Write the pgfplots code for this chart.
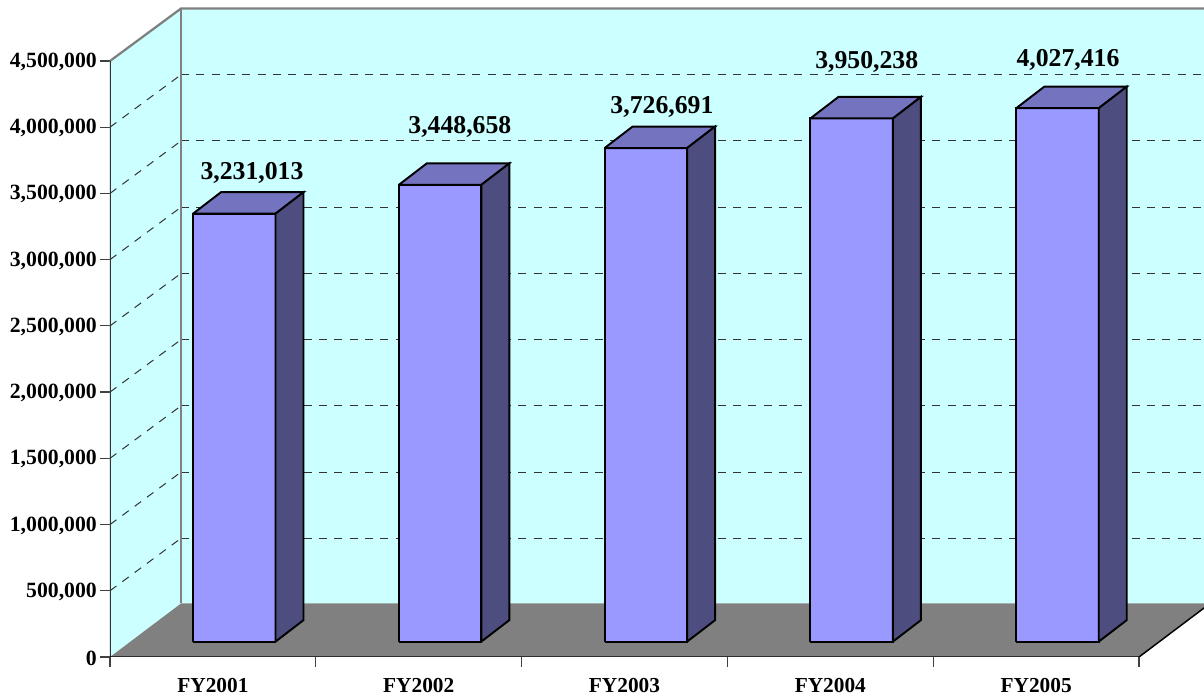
\documentclass[border=0pt]{standalone}
\usepackage{fontspec}
\setmainfont{Liberation Serif}
\usepackage{pgfplots}
\usepackage{pgfplotstable}
\pgfplotsset{compat=1.18}
\definecolor{wallc}{HTML}{CCFFFF}
\definecolor{floorc}{HTML}{808080}
\definecolor{barf}{HTML}{9999FF}
\definecolor{bart}{HTML}{7373BF}
\definecolor{bars}{HTML}{4D4D80}
% polygon shapes: x = category + u, y = a + s * value
\pgfplotstableread{
u a s
0.4033 116000 0
0.8042 116000 0
0.8042 116000 1
0.4033 116000 1
0.4033 116000 0
}\frontface
\pgfplotstableread{
u a s
0.4033 116000 1
0.8042 116000 1
0.9403 278331 1
0.5394 278331 1
0.4033 116000 1
}\topface
\pgfplotstableread{
u a s
0.8042 116000 0
0.9403 278331 0
0.9403 278331 1
0.8042 116000 1
0.8042 116000 0
}\sideface
\newcommand\threedbar[2]{%
  \addplot[draw=black,line width=1.45pt,line join=miter,fill=barf] table[x expr=#1+\thisrow{u},y expr=\thisrow{a}+\thisrow{s}*#2]{\frontface};
  \addplot[draw=black,line width=1.45pt,line join=miter,fill=bart] table[x expr=#1+\thisrow{u},y expr=\thisrow{a}+\thisrow{s}*#2]{\topface};
  \addplot[draw=black,line width=1.45pt,line join=miter,fill=bars] table[x expr=#1+\thisrow{u},y expr=\thisrow{a}+\thisrow{s}*#2]{\sideface};
}
\tikzset{griddash/.style={black!80,line width=0.75pt,dash pattern=on 6pt off 5.5pt}}
\begin{document}
\begin{tikzpicture}
\path[use as bounding box] (-82.5pt,-30.75pt) rectangle (820.5pt,492.75pt);
\begin{axis}[
  at={(0pt,0pt)},anchor=origin,
  scale only axis,width=820.5pt,height=492.75pt,
  xmin=0,xmax=5.3158,ymin=0,ymax=4960547,
  axis x line*=bottom,axis y line*=left,
  axis line style={draw=none,-},
  tick align=outside,
  major tick length=7.5pt,minor tick length=7.5pt,
  ytick={0,500000,1000000,1500000,2000000,2500000,3000000,3500000,4000000,4500000},
  scaled y ticks=false,
  yticklabel style={/pgf/number format/fixed,/pgf/number format/precision=0,/pgf/number format/1000 sep={,},/pgf/number format/assume math mode=true,font=\fontsize{16.3pt}{18pt}\selectfont\bfseries,inner sep=0pt,xshift=-2.2pt,yshift=-0.7pt},
  xtick={0.5,1.5,2.5,3.5,4.5},
  xticklabels={FY2001,FY2002,FY2003,FY2004,FY2005},
  minor xtick={0,1,2,3,4,5},
  xticklabel style={font=\fontsize{16pt}{18pt}\selectfont\bfseries,inner sep=0pt,yshift=-8.2pt,text height=11pt,text depth=0pt},
  major x tick style={draw=none},
  minor x tick style={draw=black!75,line width=0.9pt},
  y tick style={draw=black!75,line width=0.9pt},
]
% walls and floor
\addplot[draw=none,fill=wallc] coordinates {(0,0) (0.345,404000) (0.345,4896000) (0,4500000) (0,0)};
\addplot[draw=none,fill=wallc] coordinates {(0.345,404000) (5.3158,404000) (5.3158,4896000) (0.345,4896000) (0.345,404000)};
\addplot[draw=none,fill=floorc] coordinates {(0,0) (0.345,404000) (5.345,404000) (5,0) (0,0)};
% gridlines on the side wall and back wall
\pgfplotsinvokeforeach{500000,1000000,1500000,2000000,2500000,3000000,3500000,4000000}{
  \addplot[griddash] table[x=x,y expr=\thisrow{a}+#1,row sep=\\]{x a\\ 0 0\\ 0.345 396000\\};
  \addplot[griddash] table[x=x,y expr=\thisrow{a}+#1,row sep=\\]{x a\\ 0.345 396000\\ 5.3158 396000\\};
}
% wall edges
\addplot[draw=floorc,line width=1.7pt] coordinates {(0,4500000) (0.345,4896000) (5.3158,4896000)};
\addplot[draw=floorc,line width=1.7pt] coordinates {(0.345,404000) (0.345,4896000)};
% axis lines
\addplot[draw=black!80,line width=1.1pt] coordinates {(0,0) (0,4500000)};
\addplot[draw=black,line width=1.1pt] coordinates {(0,0) (5,0) (5.345,404000)};
% bars
\threedbar{0}{3231013}
\threedbar{1}{3448658}
\threedbar{2}{3726691}
\threedbar{3}{3950238}
\threedbar{4}{4027416}
% value labels
\tikzset{vlabel/.style={font=\fontsize{19.3pt}{21pt}\selectfont\bfseries,inner sep=0pt,anchor=center}}
\node[vlabel] at (axis cs:0.690,3654000) {3,231,013};
\node[vlabel] at (axis cs:1.700,4001000) {3,448,658};
\node[vlabel] at (axis cs:2.682,4152000) {3,726,691};
\node[vlabel] at (axis cs:3.677,4492000) {3,950,238};
\node[vlabel] at (axis cs:4.655,4507000) {4,027,416};
\end{axis}
\end{tikzpicture}
\end{document}
